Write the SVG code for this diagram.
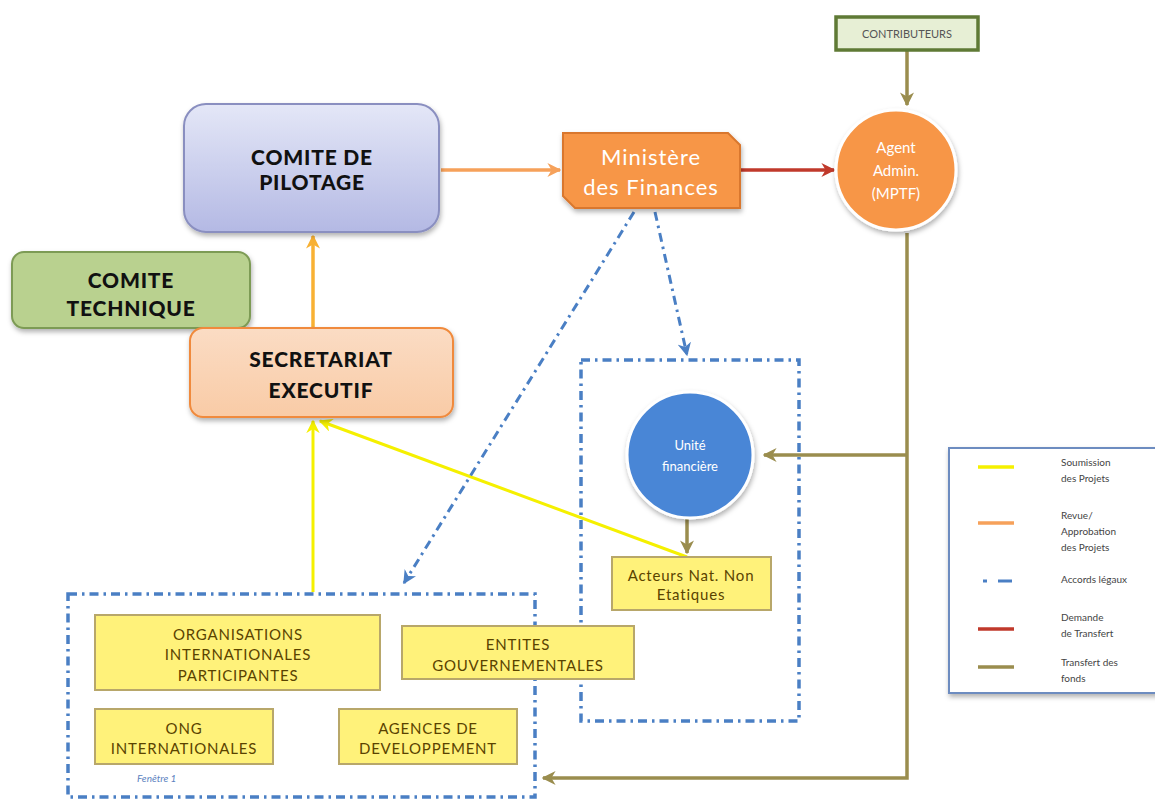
<svg xmlns="http://www.w3.org/2000/svg" width="1155" height="800" viewBox="0 0 1155 800">
  <defs>
    <style>
      .title { font-family: "Lato", "Liberation Sans", sans-serif; font-weight: 900; fill: #111; text-anchor: middle; letter-spacing: 0.8px; }
      .light { font-family: "Lato", "Liberation Sans", sans-serif; fill: #fff; text-anchor: middle; }
      .box { fill: #fff27a; stroke: #b8a76a; stroke-width: 2; }
      .boxtxt { font-family: "Lato", "Liberation Sans", sans-serif; font-size: 15px; fill: #5a4300; text-anchor: middle; letter-spacing: 0.8px; }
      .legtxt { font-family: "Lato", "Liberation Sans", sans-serif; font-size: 10px; fill: #444; }
      .frame { fill: none; stroke: #4a7fc4; stroke-width: 3.5; stroke-dasharray: 9 5 2.5 5; }
      .accord { fill: none; stroke: #4a7fc4; stroke-width: 3; stroke-dasharray: 9 5 2.5 5; }
      .olive { fill: none; stroke: #9a8d4e; stroke-width: 3.5; }
      .yellow { fill: none; stroke: #f5f000; stroke-width: 3; }
    </style>
    <filter id="shadow" x="-10%" y="-10%" width="125%" height="130%">
      <feDropShadow dx="1" dy="3" stdDeviation="2.5" flood-color="#000" flood-opacity="0.3"/>
    </filter>
    <linearGradient id="gPilot" x1="0" y1="0" x2="0" y2="1">
      <stop offset="0" stop-color="#e4e7f7"/>
      <stop offset="1" stop-color="#b4b9e4"/>
    </linearGradient>
    <linearGradient id="gSec" x1="0" y1="0" x2="0" y2="1">
      <stop offset="0" stop-color="#fbdcc4"/>
      <stop offset="1" stop-color="#f9cba6"/>
    </linearGradient>
    <marker id="aOrange" viewBox="0 0 10 10" refX="9" refY="5" markerWidth="4" markerHeight="4" orient="auto">
      <path d="M0,0 L10,5 L0,10 L3,5 z" fill="#f6a15a"/>
    </marker>
    <marker id="aAmber" viewBox="0 0 10 10" refX="9" refY="5" markerWidth="4" markerHeight="4" orient="auto">
      <path d="M0,0 L10,5 L0,10 L3,5 z" fill="#f8b133"/>
    </marker>
    <marker id="aRed" viewBox="0 0 10 10" refX="9" refY="5" markerWidth="4" markerHeight="4" orient="auto">
      <path d="M0,0 L10,5 L0,10 L3,5 z" fill="#c0392b"/>
    </marker>
    <marker id="aOlive" viewBox="0 0 10 10" refX="9" refY="5" markerWidth="4" markerHeight="4" orient="auto">
      <path d="M0,0 L10,5 L0,10 L3,5 z" fill="#9a8d4e"/>
    </marker>
    <marker id="aYellow" viewBox="0 0 10 10" refX="9" refY="5" markerWidth="4.5" markerHeight="4.5" orient="auto">
      <path d="M0,0 L10,5 L0,10 L3,5 z" fill="#f5f000"/>
    </marker>
    <marker id="aBlue" viewBox="0 0 10 10" refX="9" refY="5" markerWidth="4.5" markerHeight="4.5" orient="auto">
      <path d="M0,0 L10,5 L0,10 L3,5 z" fill="#4a7fc4"/>
    </marker>
  </defs>

  <rect width="1155" height="800" fill="#fff"/>

  <!-- dash-dot windows -->
  <g id="fenetre-1">
    <rect class="frame" x="68" y="594" width="467" height="203"/>
    <text x="137" y="782" font-family="Lato, 'Liberation Sans', sans-serif" font-size="10" font-style="italic" fill="#5b82c0">Fenêtre 1</text>
  </g>
  <g id="fenetre-2">
    <rect class="frame" x="581" y="360" width="218" height="361"/>
  </g>

  <!-- connectors -->
  <g id="connectors">
    <line x1="907" y1="51" x2="907" y2="105" class="olive" marker-end="url(#aOlive)"/>
    <line x1="441" y1="170" x2="560" y2="170" stroke="#f6a15a" stroke-width="3.5" marker-end="url(#aOrange)"/>
    <line x1="741" y1="170" x2="834" y2="170" stroke="#c0392b" stroke-width="3.5" marker-end="url(#aRed)"/>
    <line x1="313" y1="327" x2="313" y2="236" stroke="#f8b133" stroke-width="3.5" marker-end="url(#aAmber)"/>
    <line x1="313" y1="592" x2="313" y2="421" class="yellow" marker-end="url(#aYellow)"/>
    <line x1="687" y1="557" x2="320" y2="421" class="yellow" marker-end="url(#aYellow)"/>
    <line x1="634" y1="212" x2="404" y2="583" class="accord" marker-end="url(#aBlue)"/>
    <line x1="655" y1="212" x2="687" y2="355" class="accord" marker-end="url(#aBlue)"/>
    <polyline points="907,233 907,778 543,778" class="olive" marker-end="url(#aOlive)"/>
    <line x1="907" y1="455" x2="764" y2="455" class="olive" marker-end="url(#aOlive)"/>
    <line x1="687" y1="519" x2="687" y2="553" class="olive" marker-end="url(#aOlive)"/>
  </g>

  <g id="contributeurs">
    <rect x="836" y="17" width="142" height="33" fill="#e7efd5" stroke="#5f7a35" stroke-width="3.5"/>
    <text x="907" y="38" font-family="Lato, 'Liberation Sans', sans-serif" font-size="11" fill="#555" text-anchor="middle">CONTRIBUTEURS</text>
  </g>

  <g id="agent-admin">
    <circle cx="896" cy="170" r="60" fill="#f79646" stroke="#fff" stroke-width="3" filter="url(#shadow)"/>
    <text class="light" font-size="15" x="896" y="153">Agent</text>
    <text class="light" font-size="15" x="896" y="176">Admin.</text>
    <text class="light" font-size="15" x="896" y="199">(MPTF)</text>
  </g>

  <g id="ministere">
    <path d="M563,133 L728,133 L740,145 L740,208 L575,208 L563,196 Z" fill="#f79646" stroke="#d9772f" stroke-width="2" filter="url(#shadow)"/>
    <text class="light" font-size="22" letter-spacing="1" x="651" y="165">Ministère</text>
    <text class="light" font-size="22" letter-spacing="1" x="651" y="195">des Finances</text>
  </g>

  <g id="comite-pilotage">
    <rect x="184" y="104" width="255" height="128" rx="22" fill="url(#gPilot)" stroke="#8a8fc0" stroke-width="2" filter="url(#shadow)"/>
    <text class="title" font-size="21" x="312" y="165">COMITE DE</text>
    <text class="title" font-size="21" x="312" y="190">PILOTAGE</text>
  </g>

  <g id="comite-technique">
    <rect x="12" y="252" width="238" height="76" rx="12" fill="#b9d18f" stroke="#7d9b55" stroke-width="2" filter="url(#shadow)"/>
    <text class="title" font-size="21" x="131" y="288">COMITE</text>
    <text class="title" font-size="21" x="131" y="316">TECHNIQUE</text>
  </g>

  <g id="secretariat">
    <rect x="190" y="328" width="263" height="89" rx="13" fill="url(#gSec)" stroke="#f08a3c" stroke-width="2" filter="url(#shadow)"/>
    <text class="title" font-size="21" x="321" y="367">SECRETARIAT</text>
    <text class="title" font-size="21" x="321" y="398">EXECUTIF</text>
  </g>

  <g id="unite-financiere">
    <circle cx="690" cy="455" r="63" fill="#4a86d6" stroke="#fff" stroke-width="3" filter="url(#shadow)"/>
    <text class="light" font-size="13" x="690" y="450">Unité</text>
    <text class="light" font-size="13" x="690" y="471">financière</text>
  </g>

  <g id="acteurs-non-etatiques">
    <rect class="box" x="612" y="557" width="159" height="53"/>
    <text class="boxtxt" font-size="14" letter-spacing="0.4" x="691" y="581">Acteurs Nat. Non</text>
    <text class="boxtxt" font-size="14" letter-spacing="0.4" x="691" y="600">Etatiques</text>
  </g>

  <g id="organisations-internationales">
    <rect class="box" x="95" y="615" width="285" height="75"/>
    <text class="boxtxt" x="238" y="640">ORGANISATIONS</text>
    <text class="boxtxt" x="238" y="660">INTERNATIONALES</text>
    <text class="boxtxt" x="238" y="681">PARTICIPANTES</text>
  </g>

  <g id="entites-gouvernementales">
    <rect class="box" x="402" y="626" width="232" height="53"/>
    <text class="boxtxt" x="518" y="650">ENTITES</text>
    <text class="boxtxt" x="518" y="671">GOUVERNEMENTALES</text>
  </g>

  <g id="ong-internationales">
    <rect class="box" x="95" y="709" width="178" height="55"/>
    <text class="boxtxt" x="184" y="734">ONG</text>
    <text class="boxtxt" x="184" y="754">INTERNATIONALES</text>
  </g>

  <g id="agences-developpement">
    <rect class="box" x="339" y="709" width="178" height="55"/>
    <text class="boxtxt" x="428" y="734">AGENCES DE</text>
    <text class="boxtxt" x="428" y="754">DEVELOPPEMENT</text>
  </g>

  <g id="legende">
    <rect x="949" y="448" width="215" height="245" fill="#fff" stroke="#6d8cc0" stroke-width="2" filter="url(#shadow)"/>
    <line x1="978" y1="467" x2="1014" y2="467" stroke="#f5f000" stroke-width="3.5"/>
    <text class="legtxt" x="1061" y="466">Soumission</text>
    <text class="legtxt" x="1061" y="482">des Projets</text>
    <line x1="978" y1="523" x2="1014" y2="523" stroke="#f6a15a" stroke-width="3.5"/>
    <text class="legtxt" x="1061" y="519">Revue/</text>
    <text class="legtxt" x="1061" y="535">Approbation</text>
    <text class="legtxt" x="1061" y="551">des Projets</text>
    <line x1="983" y1="581" x2="987" y2="581" stroke="#4a7fc4" stroke-width="3"/>
    <line x1="998" y1="581" x2="1012" y2="581" stroke="#4a7fc4" stroke-width="3"/>
    <text class="legtxt" x="1061" y="583">Accords légaux</text>
    <line x1="978" y1="629" x2="1014" y2="629" stroke="#c0392b" stroke-width="3.5"/>
    <text class="legtxt" x="1061" y="621">Demande</text>
    <text class="legtxt" x="1061" y="637">de Transfert</text>
    <line x1="978" y1="667" x2="1014" y2="667" stroke="#9a8d4e" stroke-width="3.5"/>
    <text class="legtxt" x="1061" y="666">Transfert des</text>
    <text class="legtxt" x="1061" y="682">fonds</text>
  </g>
</svg>
